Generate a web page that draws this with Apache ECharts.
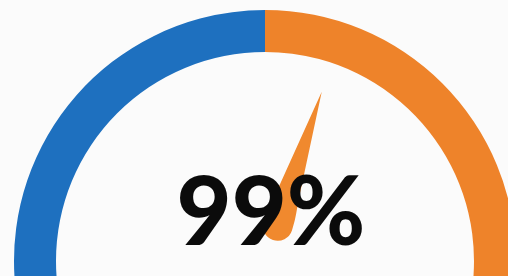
<!DOCTYPE html>
<html>
<head>
<meta charset="utf-8">
<script src="https://cdn.jsdelivr.net/npm/echarts@6/dist/echarts.min.js"></script>
<style>
  html, body { margin: 0; padding: 0; background: #fbfbfb; }
  #main { width: 508px; height: 276px; }
</style>
</head>
<body>
<div id="main"></div>
<script>
  // gauge value, shown as text
  var gaugeValue = [99];
  var gaugeMin = 0, gaugeMax = 100;
  // arc colour stops (left half blue, right half orange)
  var arcStops = [0.5, 1];
  var arcColors = ['#1e70bf', '#ee832a'];

  var chart = echarts.init(document.getElementById('main'));

  var stops = [];
  for (var i = 0; i < arcStops.length; i++) {
    stops.push([arcStops[i], arcColors[i]]);
  }

  chart.setOption({
    backgroundColor: '#fbfbfb',
    animation: false,
    series: [
      {
        // needle only, pivot at its own centre
        type: 'gauge',
        z: 1,
        center: [273, 240],
        radius: 156,
        min: gaugeMin,
        max: gaugeMax,
        startAngle: 180,
        endAngle: 70.7,
        axisLine: { show: false },
        splitLine: { show: false },
        axisTick: { show: false },
        axisLabel: { show: false },
        progress: { show: false },
        anchor: { show: false },
        title: { show: false },
        detail: { show: false },
        pointer: {
          icon: 'path://M15,0 L27,112 C29,124 30,132 30,141 A15,15 0 0 1 0,141 C0,132 1,124 3,112 Z',
          length: 156,
          width: 30,
          itemStyle: { color: '#f0892e' }
        },
        data: [{ value: gaugeValue[0] }]
      },
      {
        // the arc and the big number
        type: 'gauge',
        z: 2,
        center: [265, 261],
        radius: 251,
        min: gaugeMin,
        max: gaugeMax,
        startAngle: 195,
        endAngle: -15,
        axisLine: {
          lineStyle: { width: 42, color: stops }
        },
        splitLine: { show: false },
        axisTick: { show: false },
        axisLabel: { show: false },
        pointer: { show: false },
        anchor: { show: false },
        title: { show: false },
        detail: {
          offsetCenter: [6, -47],
          formatter: '{value}%',
          fontFamily: 'Lato',
          fontWeight: 900,
          fontSize: 95,
          color: '#0b0b0b'
        },
        data: [{ value: gaugeValue[0] }]
      }
    ]
  });
</script>
</body>
</html>
